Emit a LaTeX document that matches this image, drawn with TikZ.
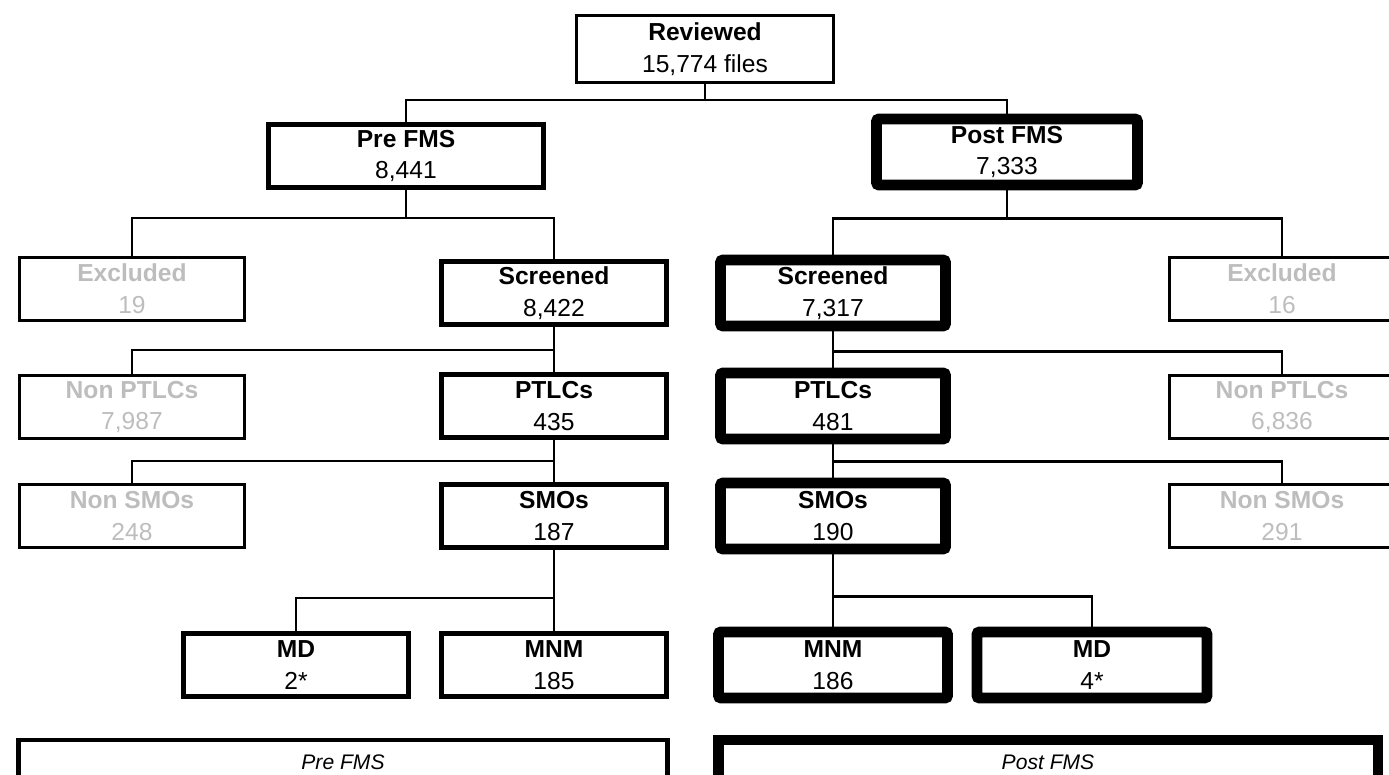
\documentclass[tikz,border=0pt]{standalone}
\usepackage{fontspec}
\setmainfont{Liberation Sans}
\usetikzlibrary{positioning}
\definecolor{greytext}{HTML}{BDBDBD}
\begin{document}
\begin{tikzpicture}[x=0.02cm,y=-0.02cm,
  box/.style={draw,align=center,inner sep=1pt,minimum width=4.5cm,minimum height=1.26cm,font=\fontsize{14}{18}\selectfont},
  thinbox/.style={box,line width=1.7pt},
  medbox/.style={box,line width=2.8pt},
  heavybox/.style={box,line width=6.2pt,rounded corners=1.5pt},
  greybox/.style={thinbox,text=greytext},
  legend/.style={draw,minimum height=0.88cm,font=\fontsize{12}{14}\selectfont\itshape},
  link/.style={line width=1.4pt}]
  \useasboundingbox (0,0) rectangle (1389,774);
  \clip (0,0) rectangle (1389,774);
  % top
  \node[thinbox,minimum width=5.16cm,minimum height=1.34cm](rev) at (705,49){\textbf{Reviewed}\\15,774 files};
  \node[medbox,minimum width=5.5cm](pre) at (406,156){\textbf{Pre FMS}\\8,441};
  \node[heavybox,minimum width=5.22cm,minimum height=1.32cm](post) at (1007,152){\textbf{Post FMS}\\7,333};
  % pre FMS branch
  \node[greybox](exL) at (132,289){\textbf{Excluded}\\19};
  \node[medbox](scrL) at (554,293){\textbf{Screened}\\8,422};
  \node[greybox](nptL) at (132,407){\textbf{Non PTLCs}\\7,987};
  \node[medbox](ptL) at (554,406){\textbf{PTLCs}\\435};
  \node[greybox](nsL) at (132,516){\textbf{Non SMOs}\\248};
  \node[medbox](smL) at (554,516){\textbf{SMOs}\\187};
  \node[medbox](mdL) at (296,665){\textbf{MD}\\2*};
  \node[medbox](mnL) at (554,665){\textbf{MNM}\\185};
  % post FMS branch
  \node[heavybox,minimum height=1.32cm](scrR) at (833,293){\textbf{Screened}\\7,317};
  \node[greybox](exR) at (1282,289){\textbf{Excluded}\\16};
  \node[heavybox,minimum height=1.32cm](ptR) at (833,406){\textbf{PTLCs}\\481};
  \node[greybox](nptR) at (1282,407){\textbf{Non PTLCs}\\6,836};
  \node[heavybox,minimum height=1.32cm](smR) at (833,516){\textbf{SMOs}\\190};
  \node[greybox](nsR) at (1282,516){\textbf{Non SMOs}\\291};
  \node[heavybox,minimum width=4.58cm,minimum height=1.32cm](mnR) at (833,665){\textbf{MNM}\\186};
  \node[heavybox,minimum width=4.6cm,minimum height=1.32cm](mdR) at (1092,665){\textbf{MD}\\4*};
  % legends
  \node[legend,line width=2.8pt,minimum width=13cm](legPre) at (343,762){Pre FMS};
  \node[legend,line width=6.2pt,minimum width=13.2cm](legPost) at (1048,762){Post FMS};
  % connectors
  \draw[link](rev.south) -- ++(0,16) -| (pre.north);
  \draw[link](rev.south) -- ++(0,16) -| (post.north);
  \draw[link](pre.south) -- ++(0,28) -| (exL.north);
  \draw[link](pre.south) -- ++(0,28) -| (scrL.north);
  \draw[link](scrL.south) -- ++(0,23) -| (nptL.north);
  \draw[link](scrL.south) -- (ptL.north);
  \draw[link](ptL.south) -- ++(0,21) -| (nsL.north);
  \draw[link](ptL.south) -- (smL.north);
  \draw[link](smL.south) -- ++(0,48) -| (mdL.north);
  \draw[link](smL.south) -- (mnL.north);
  \draw[link](post.south) -- ++(0,28) -| (scrR.north);
  \draw[link](post.south) -- ++(0,28) -| (exR.north);
  \draw[link](scrR.south) -- ++(0,20) -| (nptR.north);
  \draw[link](scrR.south) -- (ptR.north);
  \draw[link](ptR.south) -- ++(0,17) -| (nsR.north);
  \draw[link](ptR.south) -- (smR.north);
  \draw[link](smR.south) -- ++(0,42) -| (mdR.north);
  \draw[link](smR.south) -- (mnR.north);
\end{tikzpicture}
\end{document}
